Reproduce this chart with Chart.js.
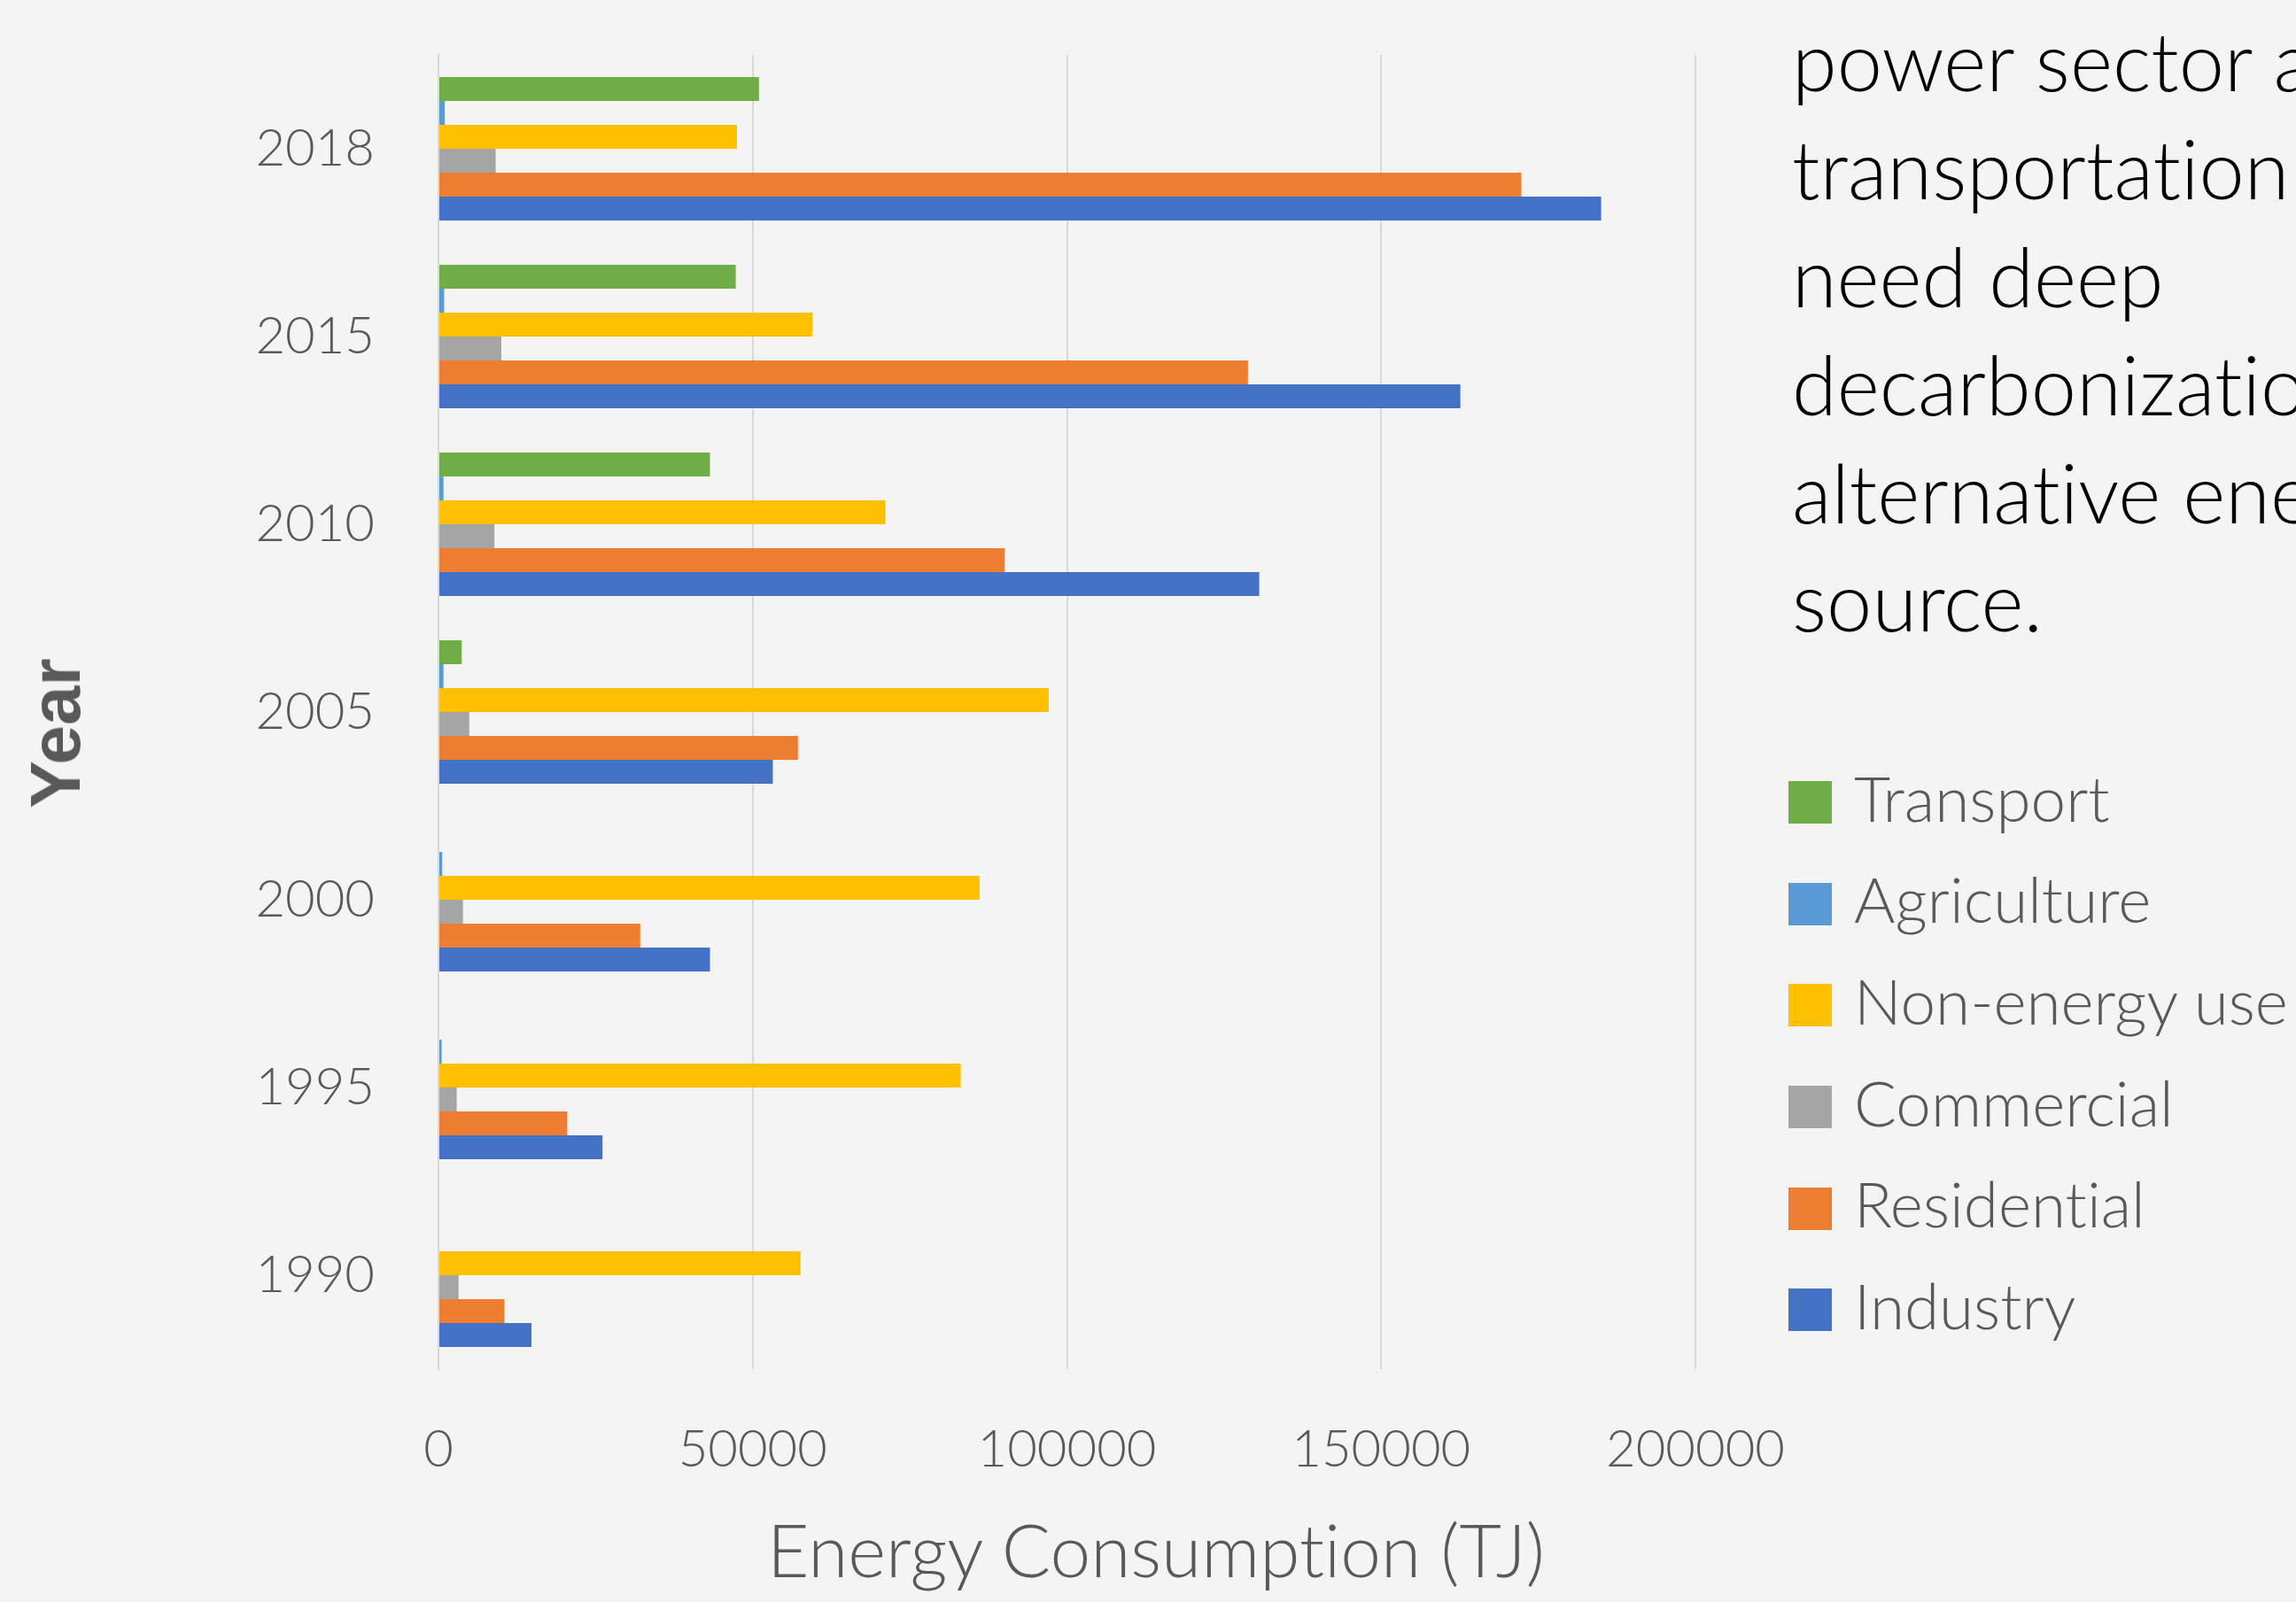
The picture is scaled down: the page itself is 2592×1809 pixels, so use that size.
<!DOCTYPE html>
<html>
<head>
<meta charset="utf-8">
<title>Energy Consumption</title>
<script src="https://cdn.jsdelivr.net/npm/chart.js"></script>
<style>
  html, body { margin: 0; padding: 0; }
  body {
    width: 2592px; height: 1809px; overflow: hidden; position: relative;
    background: #f4f4f4; font-family: Lato, "Open Sans", sans-serif;
    font-variant-ligatures: none;
  }
  #grafico { position: absolute; left: 0; top: 0; }
  #nota {
    position: absolute; left: 2023px; top: 7px;
    font-size: 92px; font-weight: 300; line-height: 122px; color: #000;
    white-space: nowrap;
  }
  #legenda { position: absolute; left: 2019px; top: 849px; }
  .item { display: flex; align-items: center; height: 114.6px; }
  .caixa { width: 49px; height: 48px; margin-right: 25px; }
  .item span { font-size: 71px; font-weight: 300; color: #595959; position: relative; top: -6px; }
  #tituloX {
    position: absolute; left: 1305px; top: 1700px; transform: translateX(-50%);
    font-size: 82px; font-weight: 300; color: #595959; white-space: nowrap;
  }
  #tituloY {
    position: absolute; left: 63px; top: 828px;
    transform: translate(-50%, -50%) rotate(-90deg);
    font-family: "Liberation Sans", Arial, sans-serif; font-weight: bold;
    font-size: 80px; color: #595959; white-space: nowrap;
  }
</style>
</head>
<body>
<canvas id="grafico" width="2040" height="1809"></canvas>
<div id="nota">
  <div>power sector and</div>
  <div>transportation sector</div>
  <div>need deep</div>
  <div>decarbonization with</div>
  <div>alternative energy</div>
  <div>source.</div>
</div>
<div id="legenda"></div>
<div id="tituloX">Energy Consumption (TJ)</div>
<div id="tituloY">Year</div>

<script>
// anos de cima para baixo, como no gráfico
let anos = ["2018", "2015", "2010", "2005", "2000", "1995", "1990"];

let transporte  = [51000, 47300, 43200, 3700, 0, 0, 0];
let agricultura = [1000, 900, 800, 800, 600, 500, 0];
let naoEnergia  = [47500, 59500, 71100, 97100, 86100, 83100, 57600];
let comercial   = [9100, 10000, 8900, 4900, 3900, 2900, 3200];
let residencial = [172300, 128800, 90100, 57200, 32100, 20500, 10500];
let industria   = [185000, 162600, 130600, 53200, 43200, 26100, 14800];

let nomes = ["Transport", "Agriculture", "Non-energy use", "Commercial", "Residential", "Industry"];
let cores = ["#70ad47", "#5b9bd5", "#ffc000", "#a5a5a5", "#ed7d31", "#4472c4"];
let series = [transporte, agricultura, naoEnergia, comercial, residencial, industria];

let ticksX = [0, 50000, 100000, 150000, 200000];

let fonteEixo = { family: "Lato", size: 58, weight: "300" };

// zera a folga que o Chart.js reserva para os rótulos das pontas
function semFolga(s) {
  s.paddingTop = 0;
  s.paddingBottom = 0;
  s.paddingLeft = 0;
  s.paddingRight = 0;
}

let ctx = document.getElementById("grafico").getContext("2d");
let grafico = new Chart(ctx, {
  type: "bar",
  data: {
    labels: anos,
    datasets: series.map((valores, i) => ({
      label: nomes[i],
      data: valores,
      backgroundColor: cores[i],
      borderWidth: 0,
      barPercentage: 1,
      categoryPercentage: 0.764
    }))
  },
  options: {
    indexAxis: "y",
    responsive: false,
    animation: false,
    layout: { padding: { top: 62, right: 126, bottom: 0, left: 0 } },
    plugins: {
      legend: { display: false },
      tooltip: { enabled: false }
    },
    scales: {
      x: {
        min: ticksX[0],
        max: ticksX[ticksX.length - 1],
        afterBuildTicks: s => { s.ticks = ticksX.map(v => ({ value: v })); },
        afterFit: s => { s.height = 263; semFolga(s); },
        ticks: {
          color: "#595959",
          font: fonteEixo,
          padding: 56,
          maxRotation: 0,
          callback: v => String(v)
        },
        grid: { color: "#d9d9d9", lineWidth: 2, drawTicks: false },
        border: { display: false }
      },
      y: {
        afterFit: s => { s.width = 495; semFolga(s); },
        ticks: { color: "#595959", font: fonteEixo, padding: 72 },
        grid: { display: false, drawTicks: false },
        border: { display: true, color: "#d9d9d9", width: 2 }
      }
    }
  }
});

// legenda feita à mão, mesma ordem das séries
let legenda = document.getElementById("legenda");
nomes.forEach((nome, i) => {
  let item = document.createElement("div");
  item.className = "item";
  let caixa = document.createElement("div");
  caixa.className = "caixa";
  caixa.style.background = cores[i];
  let texto = document.createElement("span");
  texto.innerText = nome;
  item.appendChild(caixa);
  item.appendChild(texto);
  legenda.appendChild(item);
});
</script>
</body>
</html>
